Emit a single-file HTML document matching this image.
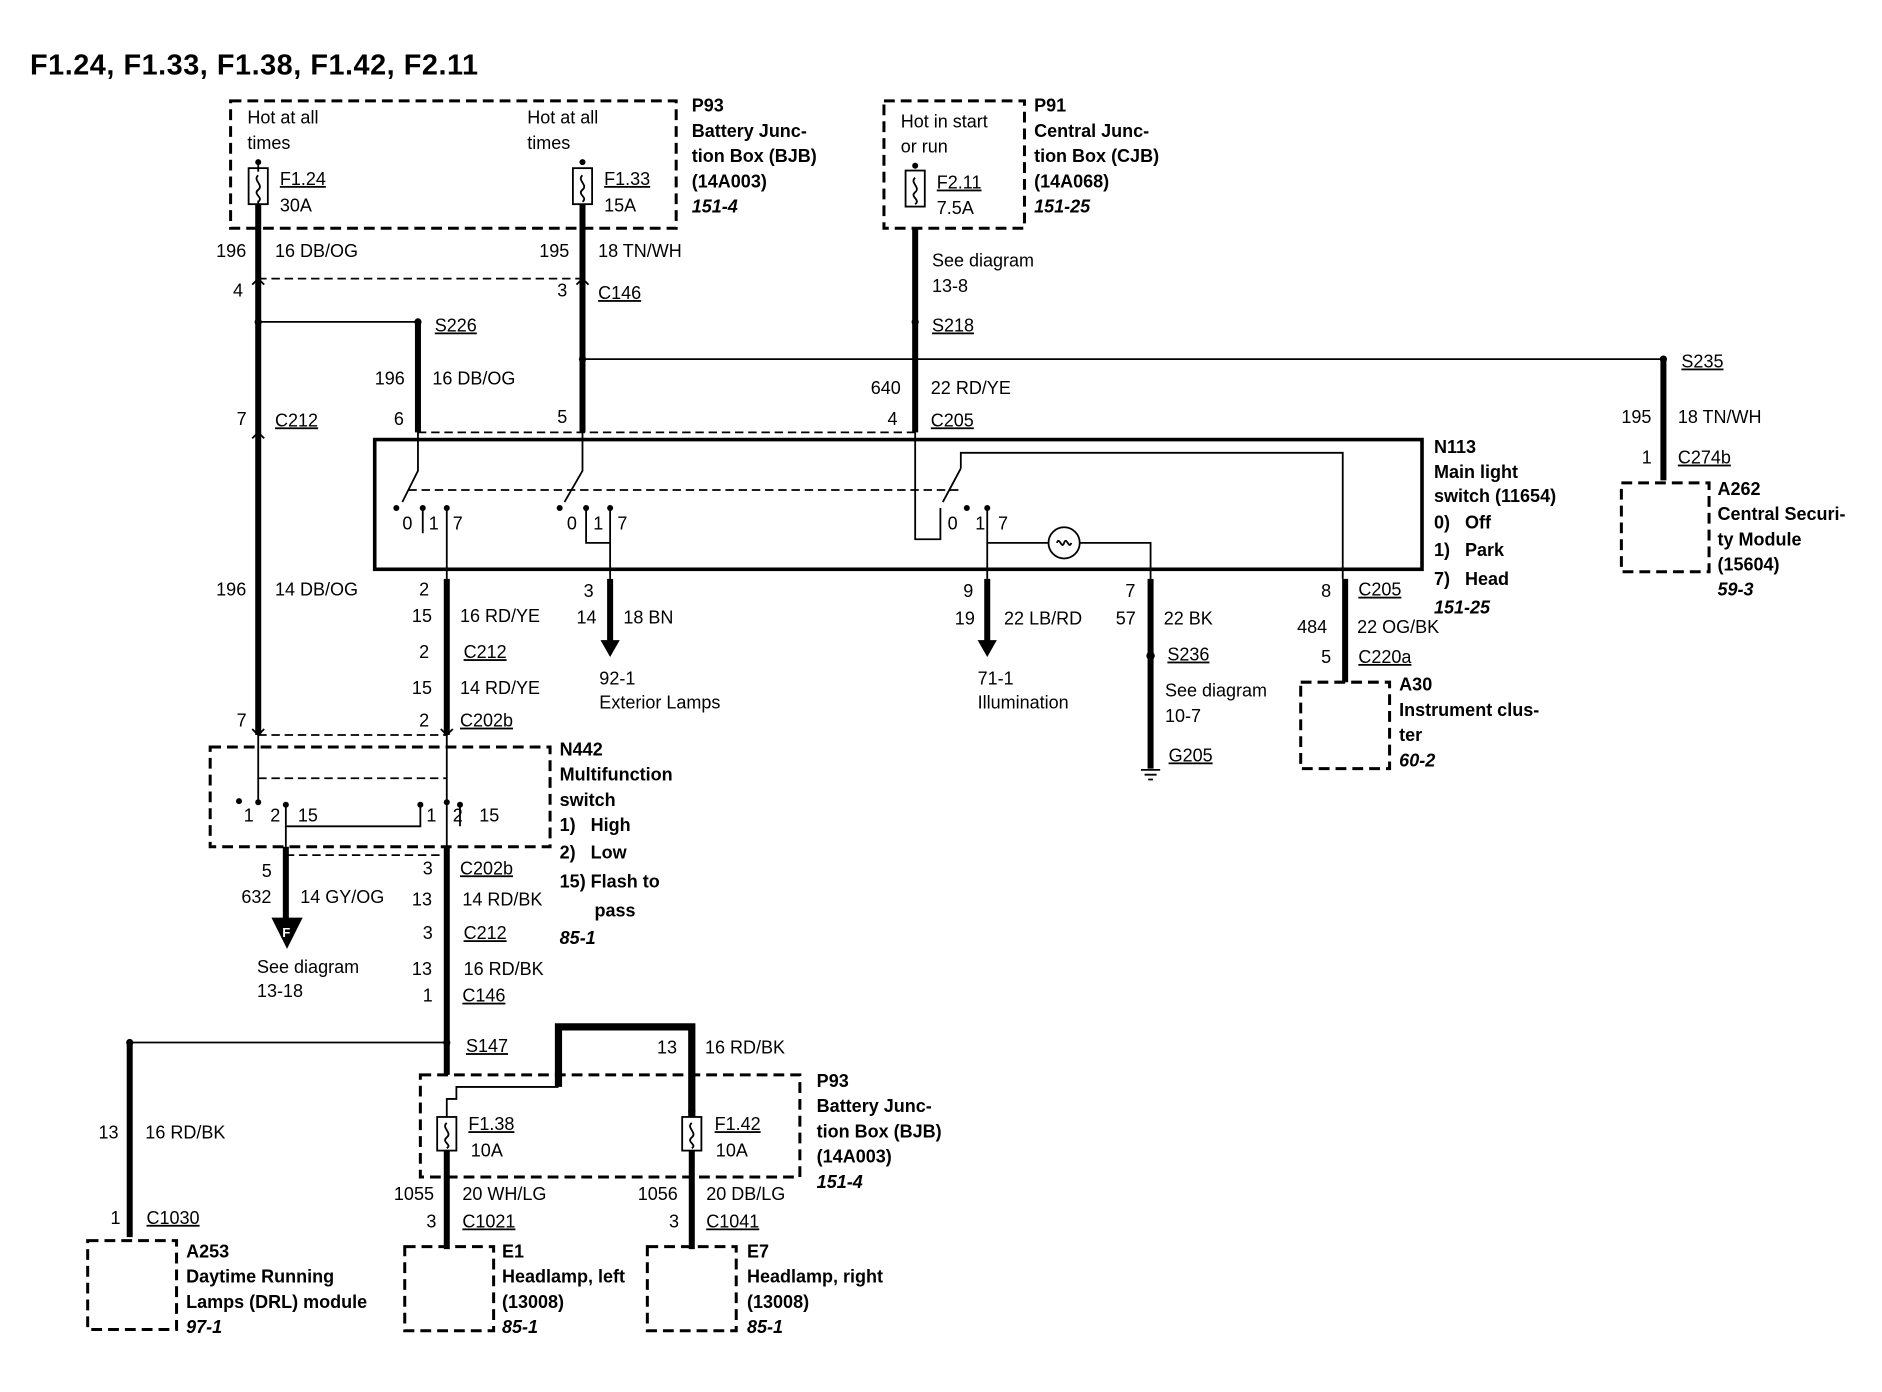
<!DOCTYPE html>
<html><head><meta charset="utf-8"><style>
html,body{margin:0;padding:0;background:#fff;}
svg{display:block;}
text{font-family:"Liberation Sans",sans-serif;font-size:15px;fill:#000;}
.b{font-weight:bold;}
.i{font-weight:bold;font-style:italic;}
.u{text-decoration:underline;}
.tk{stroke:#000;stroke-width:5;fill:none;}
.tn{stroke:#000;stroke-width:1.5;fill:none;}
.ds{stroke:#000;stroke-width:2.5;fill:none;stroke-dasharray:9,5;}
.dl{stroke:#000;stroke-width:1.5;fill:none;stroke-dasharray:7,4;}
</style></head><body>
<svg width="1882" height="1392" viewBox="0 0 1567 1159" preserveAspectRatio="none" xmlns="http://www.w3.org/2000/svg">
<text x="25" y="62" class="b" style="font-size:24px" textLength="373">F1.24, F1.33, F1.38, F1.42, F2.11</text>

<rect x="192" y="84" width="371" height="106" class="ds"/>
<text x="206" y="103">Hot at all</text><text x="206" y="124">times</text>
<text x="439" y="103">Hot at all</text><text x="439" y="124">times</text>
<circle cx="215" cy="135" r="2.5"/><rect x="207" y="140" width="16" height="30" class="tn"/><path d="M215 135v8 M215 167v5 M215 146c-5 4 5 8 0 12 c-5 4 5 6 0 10" class="tn"/>
<text x="233" y="154" class="u">F1.24</text><text x="233" y="176">30A</text>
<circle cx="485" cy="135" r="2.5"/><rect x="477" y="140" width="16" height="30" class="tn"/><path d="M485 146c-5 4 5 8 0 12 c-5 4 5 6 0 10" class="tn"/>
<text x="503" y="154" class="u">F1.33</text><text x="503" y="176">15A</text>
<text x="576" y="93" class="b">P93</text><text x="576" y="114" class="b">Battery Junc-</text><text x="576" y="135" class="b">tion Box (BJB)</text><text x="576" y="156" class="b">(14A003)</text><text x="576" y="177" class="i">151-4</text>

<rect x="736" y="84" width="117" height="106" class="ds"/>
<text x="750" y="106">Hot in start</text><text x="750" y="127">or run</text>
<circle cx="762" cy="138" r="2.5"/><rect x="754" y="142" width="16" height="30" class="tn"/><path d="M762 148c-5 4 5 8 0 12 c-5 4 5 6 0 10" class="tn"/>
<text x="780" y="157" class="u">F2.11</text><text x="780" y="178">7.5A</text>
<text x="861" y="93" class="b">P91</text><text x="861" y="114" class="b">Central Junc-</text><text x="861" y="135" class="b">tion Box (CJB)</text><text x="861" y="156" class="b">(14A068)</text><text x="861" y="177" class="i">151-25</text>

<path d="M215 170V612 M485 170V360 M348 268V360 M762 190V360" class="tk"/>
<text x="180" y="214">196</text><text x="229" y="214">16 DB/OG</text>
<text x="449" y="214">195</text><text x="498" y="214">18 TN/WH</text>
<path d="M215 232H485" class="dl"/>
<text x="194" y="247">4</text><text x="464" y="247">3</text><text x="498" y="249" class="u">C146</text>
<circle cx="215" cy="268" r="3"/><path d="M215 268H348" class="tn"/><circle cx="348" cy="268" r="3"/>
<text x="362" y="276" class="u">S226</text>
<text x="312" y="320">196</text><text x="360" y="320">16 DB/OG</text>
<circle cx="485" cy="299" r="3"/><path d="M485 299H1385" class="tn"/><circle cx="1385" cy="299" r="3"/>
<text x="776" y="222">See diagram</text><text x="776" y="243">13-8</text>
<circle cx="762" cy="268" r="3"/><text x="776" y="276" class="u">S218</text>
<text x="725" y="328">640</text><text x="775" y="328">22 RD/YE</text>
<text x="197" y="354">7</text><text x="229" y="355" class="u">C212</text>
<text x="328" y="354">6</text><text x="464" y="352">5</text><text x="739" y="354">4</text><text x="775" y="355" class="u">C205</text>
<path d="M348 360H762" class="dl"/>
<path d="M210 237l5 -5 5 5 M480 237l5 -5 5 5 M210 365l5 -5 5 5 M210 607l5 5 5 -5 M367 607l5 5 5 -5" class="tn"/>

<rect x="312" y="366" width="872" height="108" style="fill:none;stroke:#000;stroke-width:3"/>
<text x="1194" y="377" class="b">N113</text><text x="1194" y="398" class="b">Main light</text><text x="1194" y="418" class="b">switch (11654)</text>
<text x="1194" y="440" class="b">0)&#160;&#160;&#160;Off</text><text x="1194" y="463" class="b">1)&#160;&#160;&#160;Park</text><text x="1194" y="487" class="b">7)&#160;&#160;&#160;Head</text><text x="1194" y="511" class="i">151-25</text>
<path d="M348 360V392L335 418 M485 360V392L470 418" class="tn"/>
<path d="M340 408H800" class="dl"/>
<circle cx="330" cy="423" r="2.5"/><circle cx="352" cy="423" r="2.5"/><circle cx="372" cy="423" r="2.5"/>
<text x="335" y="441">0</text><text x="357" y="441">1</text><text x="377" y="441">7</text>
<path d="M352 423V444 M372 423V482" class="tn"/>
<circle cx="466" cy="423" r="2.5"/><circle cx="488" cy="423" r="2.5"/><circle cx="508" cy="423" r="2.5"/>
<text x="472" y="441">0</text><text x="494" y="441">1</text><text x="514" y="441">7</text>
<path d="M488 423V452H508V482 M508 423V452" class="tn"/>
<path d="M762 360V449H783V423 M800 390L785 418 M800 390V377H1118V482" class="tn"/>
<circle cx="805" cy="423" r="2.5"/><circle cx="822" cy="423" r="2.5"/>
<text x="789" y="441">0</text><text x="812" y="441">1</text><text x="831" y="441">7</text>
<path d="M822 423V482 M822 452H873 M899 452H958V482" class="tn"/>
<circle cx="886" cy="452" r="13" class="tn"/><path d="M880 452c2-6 4 6 6 0c2-6 4 6 6 0" class="tn"/>

<path d="M372 482V612 M508 482V535 M822 482V535 M958 482V640 M1120 482V568 M1385 299V400" class="tk"/>
<path d="M500 533h16l-8 14z M814 533h16l-8 14z"/>
<text x="180" y="496">196</text><text x="229" y="496">14 DB/OG</text>
<text x="349" y="496">2</text><text x="343" y="518">15</text><text x="383" y="518">16 RD/YE</text>
<text x="349" y="548">2</text><text x="386" y="548" class="u">C212</text>
<text x="343" y="578">15</text><text x="383" y="578">14 RD/YE</text>
<text x="197" y="605">7</text><text x="349" y="605">2</text><text x="383" y="605" class="u">C202b</text>
<path d="M215 612H372" class="dl"/>
<text x="486" y="497">3</text><text x="480" y="519">14</text><text x="519" y="519">18 BN</text>
<text x="499" y="570">92-1</text><text x="499" y="590">Exterior Lamps</text>
<text x="802" y="497">9</text><text x="795" y="520">19</text><text x="836" y="520">22 LB/RD</text>
<text x="814" y="570">71-1</text><text x="814" y="590">Illumination</text>
<text x="937" y="497">7</text><text x="929" y="520">57</text><text x="969" y="520">22 BK</text>
<circle cx="958" cy="546" r="3.5"/><text x="972" y="550" class="u">S236</text>
<text x="970" y="580">See diagram</text><text x="970" y="601">10-7</text>
<path d="M950 641h16 M953 645h10 M956 649h4" class="tn"/><text x="973" y="634" class="u">G205</text>
<text x="1100" y="497">8</text><text x="1131" y="496" class="u">C205</text>
<text x="1080" y="527">484</text><text x="1130" y="527">22 OG/BK</text>
<text x="1100" y="552">5</text><text x="1131" y="552" class="u">C220a</text>
<rect x="1083" y="568" width="74" height="72" class="ds"/>
<text x="1165" y="575" class="b">A30</text><text x="1165" y="596" class="b">Instrument clus-</text><text x="1165" y="617" class="b">ter</text><text x="1165" y="638" class="i">60-2</text>
<text x="1400" y="306" class="u">S235</text>
<text x="1350" y="352">195</text><text x="1397" y="352">18 TN/WH</text>
<text x="1367" y="386">1</text><text x="1397" y="386" class="u">C274b</text>
<rect x="1350" y="402" width="73" height="74" class="ds"/>
<text x="1430" y="412" class="b">A262</text><text x="1430" y="433" class="b">Central Securi-</text><text x="1430" y="454" class="b">ty Module</text><text x="1430" y="475" class="b">(15604)</text><text x="1430" y="496" class="i">59-3</text>

<rect x="175" y="622" width="283" height="83" class="ds"/>
<text x="466" y="629" class="b">N442</text><text x="466" y="650" class="b">Multifunction</text><text x="466" y="671" class="b">switch</text>
<text x="466" y="692" class="b">1)&#160;&#160;&#160;High</text><text x="466" y="715" class="b">2)&#160;&#160;&#160;Low</text><text x="466" y="739" class="b">15)&#160;Flash to</text><text x="495" y="763" class="b">pass</text><text x="466" y="786" class="i">85-1</text>
<path d="M215 612V668 M372 612V668" class="tn"/><path d="M215 648H372" class="dl"/>
<circle cx="199" cy="667" r="2.5"/><circle cx="215" cy="668" r="2.5"/><circle cx="238" cy="670" r="2.5"/>
<text x="203" y="684">1</text><text x="225" y="684">2</text><text x="248" y="684">15</text>
<path d="M238 670V688H350V670 M238 688V705" class="tn"/><circle cx="350" cy="670" r="2.5"/><circle cx="372" cy="668" r="2.5"/><circle cx="383" cy="670" r="2.5"/>
<text x="355" y="684">1</text><text x="377" y="684">2</text><text x="399" y="684">15</text>
<path d="M383 670V688 M372 668V705" class="tn"/>
<path d="M238 712H372" class="dl"/>
<path d="M238 705V765 M372 705V895" class="tk"/>
<path d="M226 764h26l-13 26z"/><text x="235" y="780" style="fill:#fff;font-size:11px" class="b">F</text>
<text x="218" y="730">5</text><text x="201" y="752">632</text><text x="250" y="752">14 GY/OG</text>
<text x="214" y="810">See diagram</text><text x="214" y="830">13-18</text>
<text x="352" y="728">3</text><text x="383" y="728" class="u">C202b</text>
<text x="343" y="754">13</text><text x="385" y="754">14 RD/BK</text>
<text x="352" y="782">3</text><text x="386" y="782" class="u">C212</text>
<text x="343" y="812">13</text><text x="386" y="812">16 RD/BK</text>
<text x="352" y="834">1</text><text x="385" y="834" class="u">C146</text>
<circle cx="372" cy="868" r="3"/><path d="M372 868H108" class="tn"/><circle cx="108" cy="868" r="3"/>
<text x="388" y="876" class="u">S147</text>
<path d="M108 868V1030" class="tk"/>
<text x="82" y="948">13</text><text x="121" y="948">16 RD/BK</text>
<text x="92" y="1019">1</text><text x="122" y="1019" class="u">C1030</text>
<rect x="73" y="1033" width="74" height="74" class="ds"/>
<text x="155" y="1047" class="b">A253</text><text x="155" y="1068" class="b">Daytime Running</text><text x="155" y="1089" class="b">Lamps (DRL) module</text><text x="155" y="1110" class="i">97-1</text>

<path d="M465 905V855H576V930" style="stroke:#000;stroke-width:6;fill:none"/>
<text x="547" y="877">13</text><text x="587" y="877">16 RD/BK</text>
<rect x="350" y="895" width="316" height="85" class="ds"/>
<path d="M465 905H380V915H372V930" class="tn"/>
<rect x="364" y="930" width="16" height="28" class="tn"/><path d="M372 935c-5 4 5 8 0 12c-5 4 5 6 0 9" class="tn"/>
<circle cx="576" cy="925" r="3"/><rect x="568" y="930" width="16" height="28" class="tn"/><path d="M576 935c-5 4 5 8 0 12c-5 4 5 6 0 9" class="tn"/>
<text x="390" y="941" class="u">F1.38</text><text x="392" y="963">10A</text>
<text x="595" y="941" class="u">F1.42</text><text x="596" y="963">10A</text>
<text x="680" y="905" class="b">P93</text><text x="680" y="926" class="b">Battery Junc-</text><text x="680" y="947" class="b">tion Box (BJB)</text><text x="680" y="968" class="b">(14A003)</text><text x="680" y="989" class="i">151-4</text>
<path d="M372 958V1040 M576 958V1040" class="tk"/>
<text x="328" y="999">1055</text><text x="385" y="999">20 WH/LG</text>
<text x="355" y="1022">3</text><text x="385" y="1022" class="u">C1021</text>
<text x="531" y="999">1056</text><text x="588" y="999">20 DB/LG</text>
<text x="557" y="1022">3</text><text x="588" y="1022" class="u">C1041</text>
<rect x="337" y="1038" width="74" height="70" class="ds"/>
<text x="418" y="1047" class="b">E1</text><text x="418" y="1068" class="b">Headlamp, left</text><text x="418" y="1089" class="b">(13008)</text><text x="418" y="1110" class="i">85-1</text>
<rect x="539" y="1038" width="74" height="70" class="ds"/>
<text x="622" y="1047" class="b">E7</text><text x="622" y="1068" class="b">Headlamp, right</text><text x="622" y="1089" class="b">(13008)</text><text x="622" y="1110" class="i">85-1</text>
</svg>
</body></html>
